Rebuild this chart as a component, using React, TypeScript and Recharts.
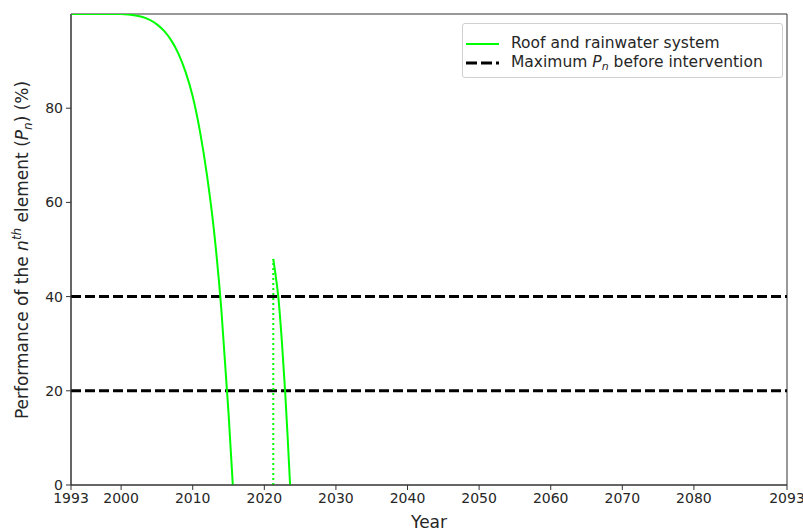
import React from "react";
import {
  LineChart,
  Line,
  XAxis,
  YAxis,
  ReferenceLine,
  ReferenceArea,
} from "recharts";

// Main deterioration curve (roof and rainwater system)
const mainYears = [1993, 1996, 1999, 2000, 2001, 2002, 2003, 2004, 2005, 2006, 2007, 2008, 2009, 2010, 2011, 2012, 2013, 2014, 2015, 2015.6];
const mainValues = [100, 100, 100, 100, 99.9, 99.7, 99.35, 98.75, 97.8, 96.4, 94.4, 91.6, 87.7, 82.5, 75.2, 65.7, 53.6, 37.2, 15.3, 0];

// Curve after the intervention
const secondYears = [2021.25, 2021.6, 2021.95, 2022.45, 2022.9, 2023.25, 2023.6];
const secondValues = [48, 44.3, 40, 30.5, 20, 10.4, 0];

// Vertical dotted jump at the intervention
const jumpYears = [2021.25, 2021.25];
const jumpValues = [0, 48];

// Thresholds (maximum Pn before intervention)
const thresholdValues = [40, 20];

const xTicks = [1993, 2000, 2010, 2020, 2030, 2040, 2050, 2060, 2070, 2080, 2093];
const yTicks = [0, 20, 40, 60, 80];

const toPoints = (xs: number[], ys: number[]) => xs.map((x, i) => ({ x, y: ys[i] }));

const mainData = toPoints(mainYears, mainValues);
const secondData = toPoints(secondYears, secondValues);
const jumpData = toPoints(jumpYears, jumpValues);

const FONT = "'DejaVu Sans', sans-serif";
const TEXT = "#262626";
const GREEN = "#00ff00";

const YLabel = () => (
  <text
    x={28}
    y={250}
    transform="rotate(-90, 28, 250)"
    textAnchor="middle"
    fontFamily={FONT}
    fontSize={17}
    fill={TEXT}
  >
    <tspan>Performance of the </tspan>
    <tspan fontStyle="italic">n</tspan>
    <tspan fontStyle="italic" fontSize={12} dy={-7}>th</tspan>
    <tspan dy={7}> element (</tspan>
    <tspan fontStyle="italic">P</tspan>
    <tspan fontStyle="italic" fontSize={12} dy={4}>n</tspan>
    <tspan dy={-4}>) (%)</tspan>
  </text>
);

const XLabel = () => (
  <text x={429} y={528} textAnchor="middle" fontFamily={FONT} fontSize={17} fill={TEXT}>
    Year
  </text>
);

const LegendBox = () => (
  <div
    style={{
      position: "absolute",
      left: 462,
      top: 23,
      width: 321,
      height: 55,
      boxSizing: "border-box",
      border: "1px solid #d0d0d0",
      borderRadius: 3,
      background: "rgba(255,255,255,0.85)",
      fontFamily: FONT,
      fontSize: 15.5,
      color: TEXT,
    }}
  >
    <svg width={40} height={55} style={{ position: "absolute", left: 0, top: 0 }}>
      <line x1={3} x2={36} y1={20} y2={20} stroke={GREEN} strokeWidth={2} />
      <line x1={3} x2={36} y1={39} y2={39} stroke="#000" strokeWidth={3} strokeDasharray="11 4" />
    </svg>
    <div style={{ position: "absolute", left: 48, top: 10, lineHeight: "19px", whiteSpace: "nowrap" }}>
      Roof and rainwater system
    </div>
    <div style={{ position: "absolute", left: 48, top: 29, lineHeight: "19px", whiteSpace: "nowrap" }}>
      Maximum <i>P</i>
      <sub style={{ fontStyle: "italic", fontSize: 11, verticalAlign: "-3px", lineHeight: 0 }}>n</sub> before intervention
    </div>
  </div>
);

export default function App() {
  return (
    <div style={{ position: "absolute", left: 0, top: 0, width: 803, height: 531, background: "#fff" }}>
      <LineChart
        width={803}
        height={531}
        margin={{ top: 14, right: 16, bottom: 0, left: 0 }}
      >
        <XAxis
          dataKey="x"
          type="number"
          domain={[1993, 2093]}
          ticks={xTicks}
          allowDataOverflow
          height={46}
          stroke="#333"
          tickSize={5}
          tickMargin={3}
          tick={{ fontFamily: FONT, fontSize: 14, fill: TEXT }}
          interval={0}
        />
        <YAxis
          type="number"
          domain={[0, 100]}
          ticks={yTicks}
          allowDataOverflow
          width={71}
          stroke="#333"
          tickSize={5}
          tickMargin={3}
          tick={{ fontFamily: FONT, fontSize: 14, fill: TEXT }}
          interval={0}
        />
        <ReferenceArea
          x1={1993}
          x2={2093}
          y1={0}
          y2={100}
          fill="none"
          fillOpacity={0}
          stroke="#333"
          strokeWidth={1}
          ifOverflow="visible"
        />
        {thresholdValues.map((v) => (
          <ReferenceLine
            key={v}
            y={v}
            stroke="#000"
            strokeWidth={3}
            strokeDasharray="10 4"
          />
        ))}
        <Line
          data={mainData}
          dataKey="y"
          type="monotone"
          stroke={GREEN}
          strokeWidth={2}
          dot={false}
          isAnimationActive={false}
        />
        <Line
          data={secondData}
          dataKey="y"
          type="monotone"
          stroke={GREEN}
          strokeWidth={2}
          dot={false}
          isAnimationActive={false}
        />
        <Line
          data={jumpData}
          dataKey="y"
          type="linear"
          stroke={GREEN}
          strokeWidth={2}
          strokeDasharray="2 3"
          dot={false}
          isAnimationActive={false}
        />
        <YLabel />
        <XLabel />
      </LineChart>
      <LegendBox />
    </div>
  );
}
